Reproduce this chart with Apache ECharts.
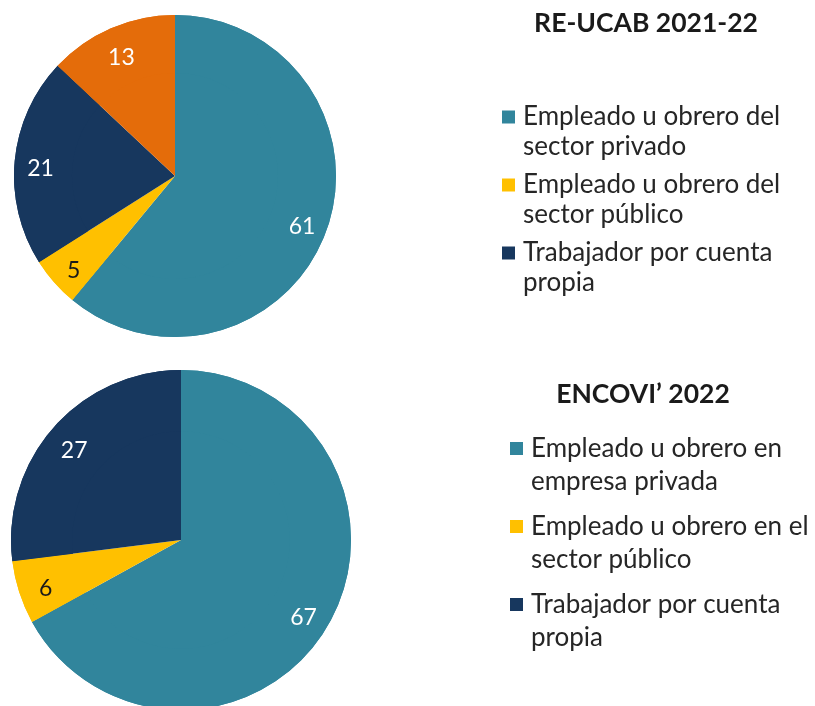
<!DOCTYPE html>
<html>
<head>
<meta charset="utf-8">
<script src="https://cdn.jsdelivr.net/npm/echarts@6/dist/echarts.min.js"></script>
<style>
  html, body { margin: 0; padding: 0; background: #fff; }
  #chart { width: 815px; height: 706px; }
</style>
</head>
<body>
<div id="chart"></div>
<script>
// RE-UCAB 2021-22 (orange slice has no legend entry in the source)
const reucabNames = [
  'Empleado u obrero del\nsector privado',
  'Empleado u obrero del\nsector público',
  'Trabajador por cuenta\npropia',
  'Otros'
];
const reucabValues = [61, 5, 21, 13];

// ENCOVI' 2022
const encoviNames = [
  'Empleado u obrero en\nempresa privada',
  'Empleado u obrero en el\nsector público',
  'Trabajador por cuenta\npropia'
];
const encoviValues = [67, 6, 27];

const titles = ['RE-UCAB 2021-22', 'ENCOVI\u2019 2022'];

const colors = ['#31859c', '#ffc000', '#17375e', '#e46c0a'];
const labelColors = ['#fff', '#1a1a1a', '#fff', '#fff'];
const font = 'Lato';

function pieData(names, values) {
  return names.map((n, i) => ({
    name: n,
    value: values[i],
    itemStyle: { color: colors[i] },
    label: { color: labelColors[i] }
  }));
}

function pies(center, r, names, values) {
  const data = pieData(names, values);
  return [
    {
      type: 'pie',
      center: center,
      radius: [0, r],
      startAngle: 90,
      clockwise: true,
      silent: true,
      label: { show: false },
      labelLine: { show: false },
      emphasis: { disabled: true },
      data: data
    },
    {
      // transparent ring only used to place the value labels near the rim
      type: 'pie',
      center: center,
      radius: [r * 0.64, r],
      startAngle: 90,
      clockwise: true,
      silent: true,
      itemStyle: { color: 'rgba(0,0,0,0)' },
      label: {
        show: true,
        position: 'inside',
        formatter: '{c}',
        fontFamily: font,
        fontSize: 23,
        offset: [0, 5]
      },
      labelLine: { show: false },
      emphasis: { disabled: true },
      data: data
    }
  ];
}

// empty first line pushes the text down so the square sits on line one
function legendOpt(left, top, gap, lh, names) {
  return {
    orient: 'vertical',
    left: left,
    top: top,
    padding: 0,
    itemWidth: 13,
    itemHeight: 13,
    itemGap: gap,
    icon: 'rect',
    selectedMode: false,
    data: names,
    formatter: name => '\n' + name,
    textStyle: {
      fontFamily: font,
      fontSize: 26,
      color: '#262626',
      lineHeight: lh,
      padding: [0, 0, 0, 3]
    }
  };
}

const titleStyle = { fontFamily: font, fontWeight: 'bold', fontSize: 26.5, color: '#1a1a1a' };

const chart = echarts.init(document.getElementById('chart'));

chart.setOption({
  backgroundColor: '#fff',
  animation: false,
  title: [
    { text: titles[0], left: 646, top: 10, textAlign: 'center', padding: 0, textStyle: titleStyle },
    { text: titles[1], left: 643, top: 381, textAlign: 'center', padding: 0, textStyle: titleStyle }
  ],
  legend: [
    legendOpt(502, 72, -22, 30, reucabNames.slice(0, 3)),
    legendOpt(510, 399, -21, 33, encoviNames)
  ],
  series: [
    ...pies([175, 176], 161, reucabNames, reucabValues),
    ...pies([181, 540], 170, encoviNames, encoviValues)
  ]
});
</script>
</body>
</html>
